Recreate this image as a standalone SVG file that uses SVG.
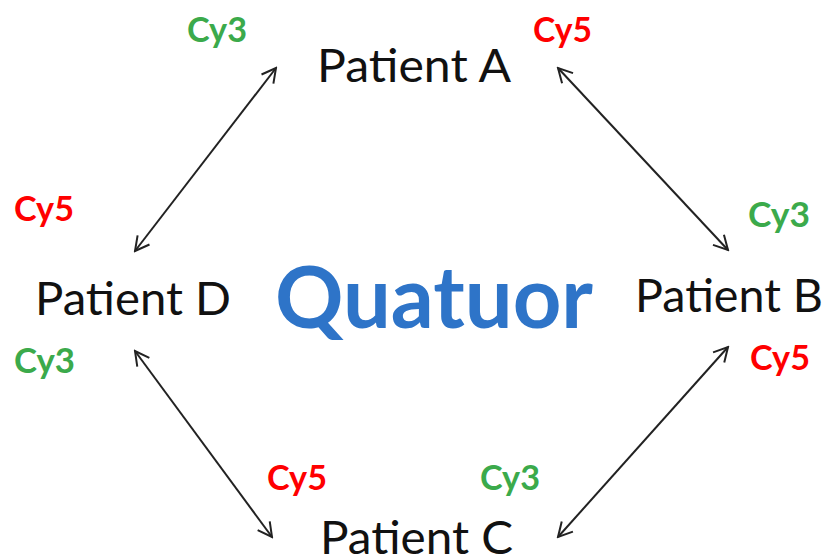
<svg xmlns="http://www.w3.org/2000/svg" width="829" height="559" viewBox="0 0 829 559">
<style>
.pt{font-family:Lato,"Open Sans","Liberation Sans",sans-serif;font-size:47px;fill:#111}
.cy{font-family:Lato,"Open Sans","Liberation Sans",sans-serif;font-size:34px;font-weight:bold}
.g{fill:#3BAA4B}
.r{fill:#FF0000}
.q{font-family:Lato,"Open Sans","Liberation Sans",sans-serif;font-size:86px;font-weight:bold;fill:#2E74C8}
.ln{stroke:#222;stroke-width:2;fill:none;marker-start:url(#ah);marker-end:url(#ah)}
</style>
<defs>
<marker id="ah" viewBox="0 0 20 20" refX="18" refY="10" markerWidth="20" markerHeight="20" markerUnits="userSpaceOnUse" orient="auto-start-reverse">
<path d="M4,2.5 L18,10 L4,17.5" fill="none" stroke="#222" stroke-width="2"/>
</marker>
</defs>
<rect width="829" height="559" fill="#fff"/>
<g id="connectors">
<line class="ln" x1="276" y1="68" x2="135" y2="251"/>
<line class="ln" x1="558" y1="68" x2="728" y2="250"/>
<line class="ln" x1="135" y1="351" x2="272" y2="537"/>
<line class="ln" x1="728" y1="347" x2="558" y2="537"/>
</g>
<g id="center"><text class="q" x="275" y="328" textLength="318" lengthAdjust="spacingAndGlyphs">Quatuor</text></g>
<g id="patientA">
<text class="pt" x="317" y="82" textLength="194" lengthAdjust="spacingAndGlyphs">Patient A</text>
<text class="cy g" x="187" y="42" textLength="60" lengthAdjust="spacingAndGlyphs">Cy3</text>
<text class="cy r" x="533" y="42" textLength="59" lengthAdjust="spacingAndGlyphs">Cy5</text>
</g>
<g id="patientB">
<text class="pt" x="635" y="312" textLength="188" lengthAdjust="spacingAndGlyphs">Patient B</text>
<text class="cy g" x="748" y="227" textLength="62" lengthAdjust="spacingAndGlyphs">Cy3</text>
<text class="cy r" x="750" y="370" textLength="60" lengthAdjust="spacingAndGlyphs">Cy5</text>
</g>
<g id="patientC">
<text class="pt" x="320" y="554" textLength="193" lengthAdjust="spacingAndGlyphs">Patient C</text>
<text class="cy r" x="267" y="490" textLength="60" lengthAdjust="spacingAndGlyphs">Cy5</text>
<text class="cy g" x="480" y="490" textLength="60" lengthAdjust="spacingAndGlyphs">Cy3</text>
</g>
<g id="patientD">
<text class="pt" x="35" y="315" textLength="196" lengthAdjust="spacingAndGlyphs">Patient D</text>
<text class="cy r" x="14" y="221" textLength="60" lengthAdjust="spacingAndGlyphs">Cy5</text>
<text class="cy g" x="14" y="373" textLength="61" lengthAdjust="spacingAndGlyphs">Cy3</text>
</g>
</svg>
